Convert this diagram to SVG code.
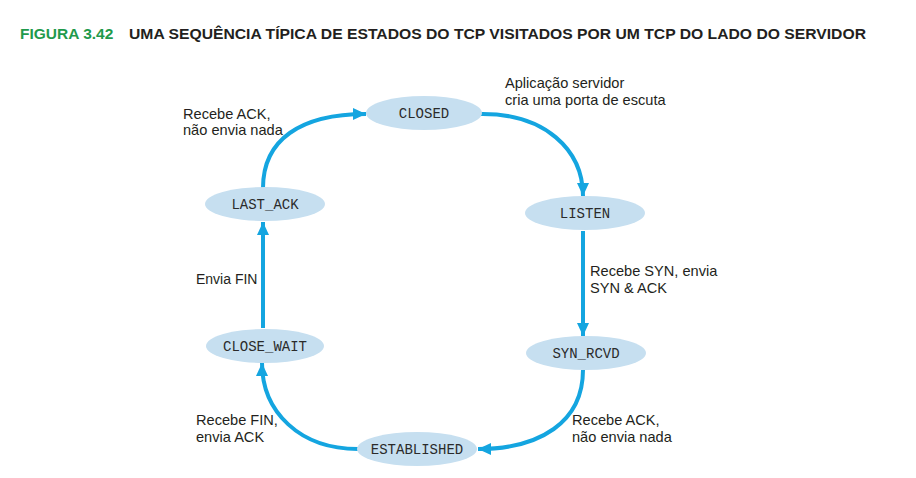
<svg xmlns="http://www.w3.org/2000/svg" width="916" height="478" viewBox="0 0 916 478">
<defs>
<marker id="ah" markerUnits="userSpaceOnUse" markerWidth="14" markerHeight="14" viewBox="0 0 14 14" refX="13" refY="7" orient="auto">
<path d="M0,1 L13,7 L0,13 Z" fill="#14a5e0"/>
</marker>
<style>
.st{fill:#c6dff0;stroke:none}
.mono{font-family:"Liberation Mono","DejaVu Sans Mono",monospace;font-size:14px;fill:#2b2b2b;text-anchor:middle}
.lbl{font-family:"Liberation Sans",Arial,sans-serif;font-size:14.6px;fill:#231f20}
.edge{fill:none;stroke:#14a5e0;stroke-width:4;marker-end:url(#ah)}
</style>
</defs>
<rect width="916" height="478" fill="#ffffff"/>
<text x="20" y="39" font-family="'Liberation Sans',Arial,sans-serif" font-size="15.5" font-weight="bold" fill="#1f9a4c">FIGURA 3.42</text>
<text x="129" y="39" font-family="'Liberation Sans',Arial,sans-serif" font-size="15.5" font-weight="bold" fill="#231f20" textLength="737" lengthAdjust="spacingAndGlyphs">UMA SEQUÊNCIA TÍPICA DE ESTADOS DO TCP VISITADOS POR UM TCP DO LADO DO SERVIDOR</text>

<g id="connectors">
<path class="edge" d="M 480 114 C 545 113, 583 150, 583 196"/>
<path class="edge" d="M 583 231 L 583 336"/>
<path class="edge" d="M 583 370 C 583 422, 540 449, 478 449"/>
<path class="edge" d="M 358 449 C 300 449, 262 412, 262 363"/>
<path class="edge" d="M 263 328 L 263 222"/>
<path class="edge" d="M 263 188 C 263 140, 300 114, 366 114"/>
</g>

<g id="closed"><ellipse class="st" cx="424" cy="113" rx="58" ry="17"/><text class="mono" x="424" y="118">CLOSED</text></g>
<g id="listen"><ellipse class="st" cx="585" cy="213" rx="60" ry="17"/><text class="mono" x="585" y="218">LISTEN</text></g>
<g id="syn_rcvd"><ellipse class="st" cx="586" cy="353" rx="60" ry="17"/><text class="mono" x="586" y="358">SYN_RCVD</text></g>
<g id="established"><ellipse class="st" cx="417" cy="449" rx="60" ry="17"/><text class="mono" x="417" y="454">ESTABLISHED</text></g>
<g id="close_wait"><ellipse class="st" cx="265" cy="346" rx="59" ry="17"/><text class="mono" x="265" y="351">CLOSE_WAIT</text></g>
<g id="last_ack"><ellipse class="st" cx="265" cy="204" rx="60" ry="17"/><text class="mono" x="265" y="209">LAST_ACK</text></g>

<g id="labels">
<text class="lbl" x="183" y="119">Recebe ACK,</text>
<text class="lbl" x="183" y="135">não envia nada</text>
<text class="lbl" x="505" y="88">Aplicação servidor</text>
<text class="lbl" x="505" y="105">cria uma porta de escuta</text>
<text class="lbl" x="590" y="276">Recebe SYN, envia</text>
<text class="lbl" x="590" y="293">SYN &amp; ACK</text>
<text class="lbl" x="196" y="284" style="font-size:14px">Envia FIN</text>
<text class="lbl" x="196" y="425">Recebe FIN,</text>
<text class="lbl" x="196" y="442">envia ACK</text>
<text class="lbl" x="572" y="425">Recebe ACK,</text>
<text class="lbl" x="572" y="442">não envia nada</text>
</g>
</svg>
